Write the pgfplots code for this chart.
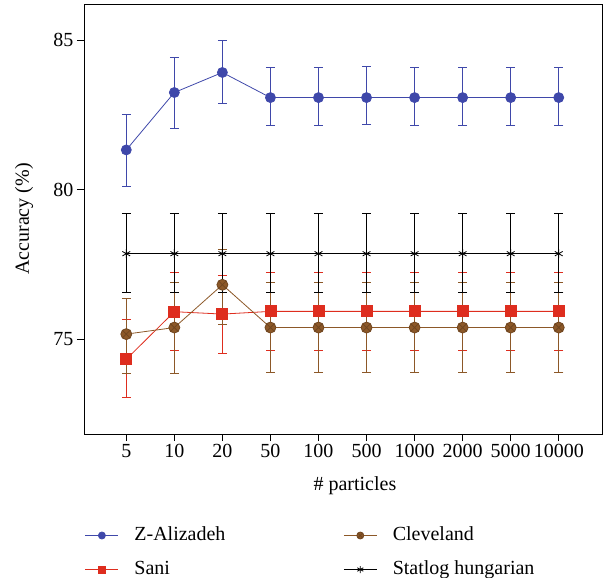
\documentclass[border=0pt]{standalone}
\usepackage{fontspec}
\setmainfont{Liberation Serif}
\usepackage{pgfplots}
\pgfplotsset{compat=1.18}
\definecolor{zblue}{RGB}{63,72,170}
\definecolor{sred}{RGB}{222,45,30}
\definecolor{cbrown}{RGB}{140,88,40}
\begin{document}
\begin{tikzpicture}
\path[use as bounding box] (-84pt,-144pt) rectangle (521pt,434pt);
\begin{axis}[
  at={(0,0)}, anchor=south west,
  scale only axis, width=518pt, height=430pt,
  xmin=-0.88, xmax=9.9, ymin=71.83, ymax=86.21,
  xtick={0,...,9},
  xticklabels={5,10,20,50,100,500,1000,2000,5000,10000},
  ytick={75,80,85},
  tick pos=left, tick align=outside,
  major tick length=7pt,
  /pgf/number format/assume math mode=true,
  tick label style={font=\fontsize{20}{24}\selectfont},
  label style={font=\fontsize{20}{24}\selectfont},
  xlabel={\# particles},
  ylabel={Accuracy (\%)},
  xlabel style={at={(axis description cs:0.523,0)}, anchor=base, yshift=-56pt},
  ylabel style={at={([xshift=-55pt]axis description cs:0,0.5)}, anchor=base},
  axis line style={line width=0.9pt},
  every tick/.style={line width=0.9pt, black},
  legend style={at={(0,0)}, anchor=north west, xshift=1pt, yshift=-92.5pt,
    draw=none, fill=none, inner sep=0pt, outer sep=0pt, row sep=16pt,
    font=\fontsize{20}{24}\selectfont,
    nodes={inner sep=0pt, text height=14pt, text depth=4pt}},
  legend cell align=left,
  transpose legend, legend columns=2,
  legend image code/.code={
    \draw[mark repeat=2,mark phase=2,#1] plot coordinates {(0pt,0pt) (16.5pt,0pt) (33pt,0pt)};
    \path[draw=none, fill=none] (0pt,0pt) -- (49pt,0pt);
  },
  legend image post style={mark size=3.5pt},
  error bars/y dir=both, error bars/y explicit,
  error bars/error mark options={rotate=90, mark size=4.5pt, line width=0.8pt},
]
\addplot[color=zblue, line width=0.8pt, mark=*, mark size=5pt,
  error bars/error bar style={line width=0.8pt, zblue}]
coordinates {
(0,81.33) += (0,1.20) -= (0,1.23)
(1,83.25) += (0,1.18) -= (0,1.21)
(2,83.92) += (0,1.08) -= (0,1.03)
(3,83.08) += (0,1.02) -= (0,0.93)
(4,83.08) += (0,1.02) -= (0,0.93)
(5,83.08) += (0,1.04) -= (0,0.91)
(6,83.08) += (0,1.02) -= (0,0.93)
(7,83.08) += (0,1.02) -= (0,0.93)
(8,83.08) += (0,1.02) -= (0,0.93)
(9,83.08) += (0,1.02) -= (0,0.93)
};
\addlegendentry{\makebox[209pt][l]{Z-Alizadeh}}
\addplot[color=sred, line width=0.8pt, mark=square*, mark size=5.5pt,
  error bars/error bar style={line width=0.8pt, sred}]
coordinates {
(0,74.33) += (0,1.32) -= (0,1.28)
(1,75.92) += (0,1.31) -= (0,1.30)
(2,75.84) += (0,1.30) -= (0,1.33)
(3,75.93) += (0,1.30) -= (0,1.31)
(4,75.93) += (0,1.30) -= (0,1.31)
(5,75.93) += (0,1.30) -= (0,1.31)
(6,75.93) += (0,1.30) -= (0,1.31)
(7,75.93) += (0,1.30) -= (0,1.31)
(8,75.93) += (0,1.30) -= (0,1.31)
(9,75.93) += (0,1.30) -= (0,1.31)
};
\addlegendentry{\makebox[209pt][l]{Sani}}
\addplot[color=cbrown, line width=0.8pt, mark=otimes*, mark size=5.5pt,
  mark options={fill=cbrown, draw=cbrown!80!black},
  error bars/error bar style={line width=0.8pt, cbrown}]
coordinates {
(0,75.17) += (0,1.20) -= (0,1.30)
(1,75.39) += (0,1.50) -= (0,1.54)
(2,76.82) += (0,1.17) -= (0,1.31)
(3,75.39) += (0,1.50) -= (0,1.51)
(4,75.39) += (0,1.50) -= (0,1.51)
(5,75.39) += (0,1.50) -= (0,1.51)
(6,75.39) += (0,1.50) -= (0,1.51)
(7,75.39) += (0,1.50) -= (0,1.51)
(8,75.39) += (0,1.50) -= (0,1.51)
(9,75.39) += (0,1.50) -= (0,1.51)
};
\addlegendentry{Cleveland}
\addplot[color=black, line width=0.8pt, mark=asterisk, mark size=4.5pt,
  error bars/error bar style={line width=0.8pt, black}]
coordinates {
(0,77.86) += (0,1.35) -= (0,1.28)
(1,77.86) += (0,1.35) -= (0,1.28)
(2,77.86) += (0,1.35) -= (0,1.28)
(3,77.86) += (0,1.35) -= (0,1.28)
(4,77.86) += (0,1.35) -= (0,1.28)
(5,77.86) += (0,1.35) -= (0,1.28)
(6,77.86) += (0,1.35) -= (0,1.28)
(7,77.86) += (0,1.35) -= (0,1.28)
(8,77.86) += (0,1.35) -= (0,1.28)
(9,77.86) += (0,1.35) -= (0,1.28)
};
\addlegendentry{Statlog hungarian}
\end{axis}
\end{tikzpicture}
\end{document}
